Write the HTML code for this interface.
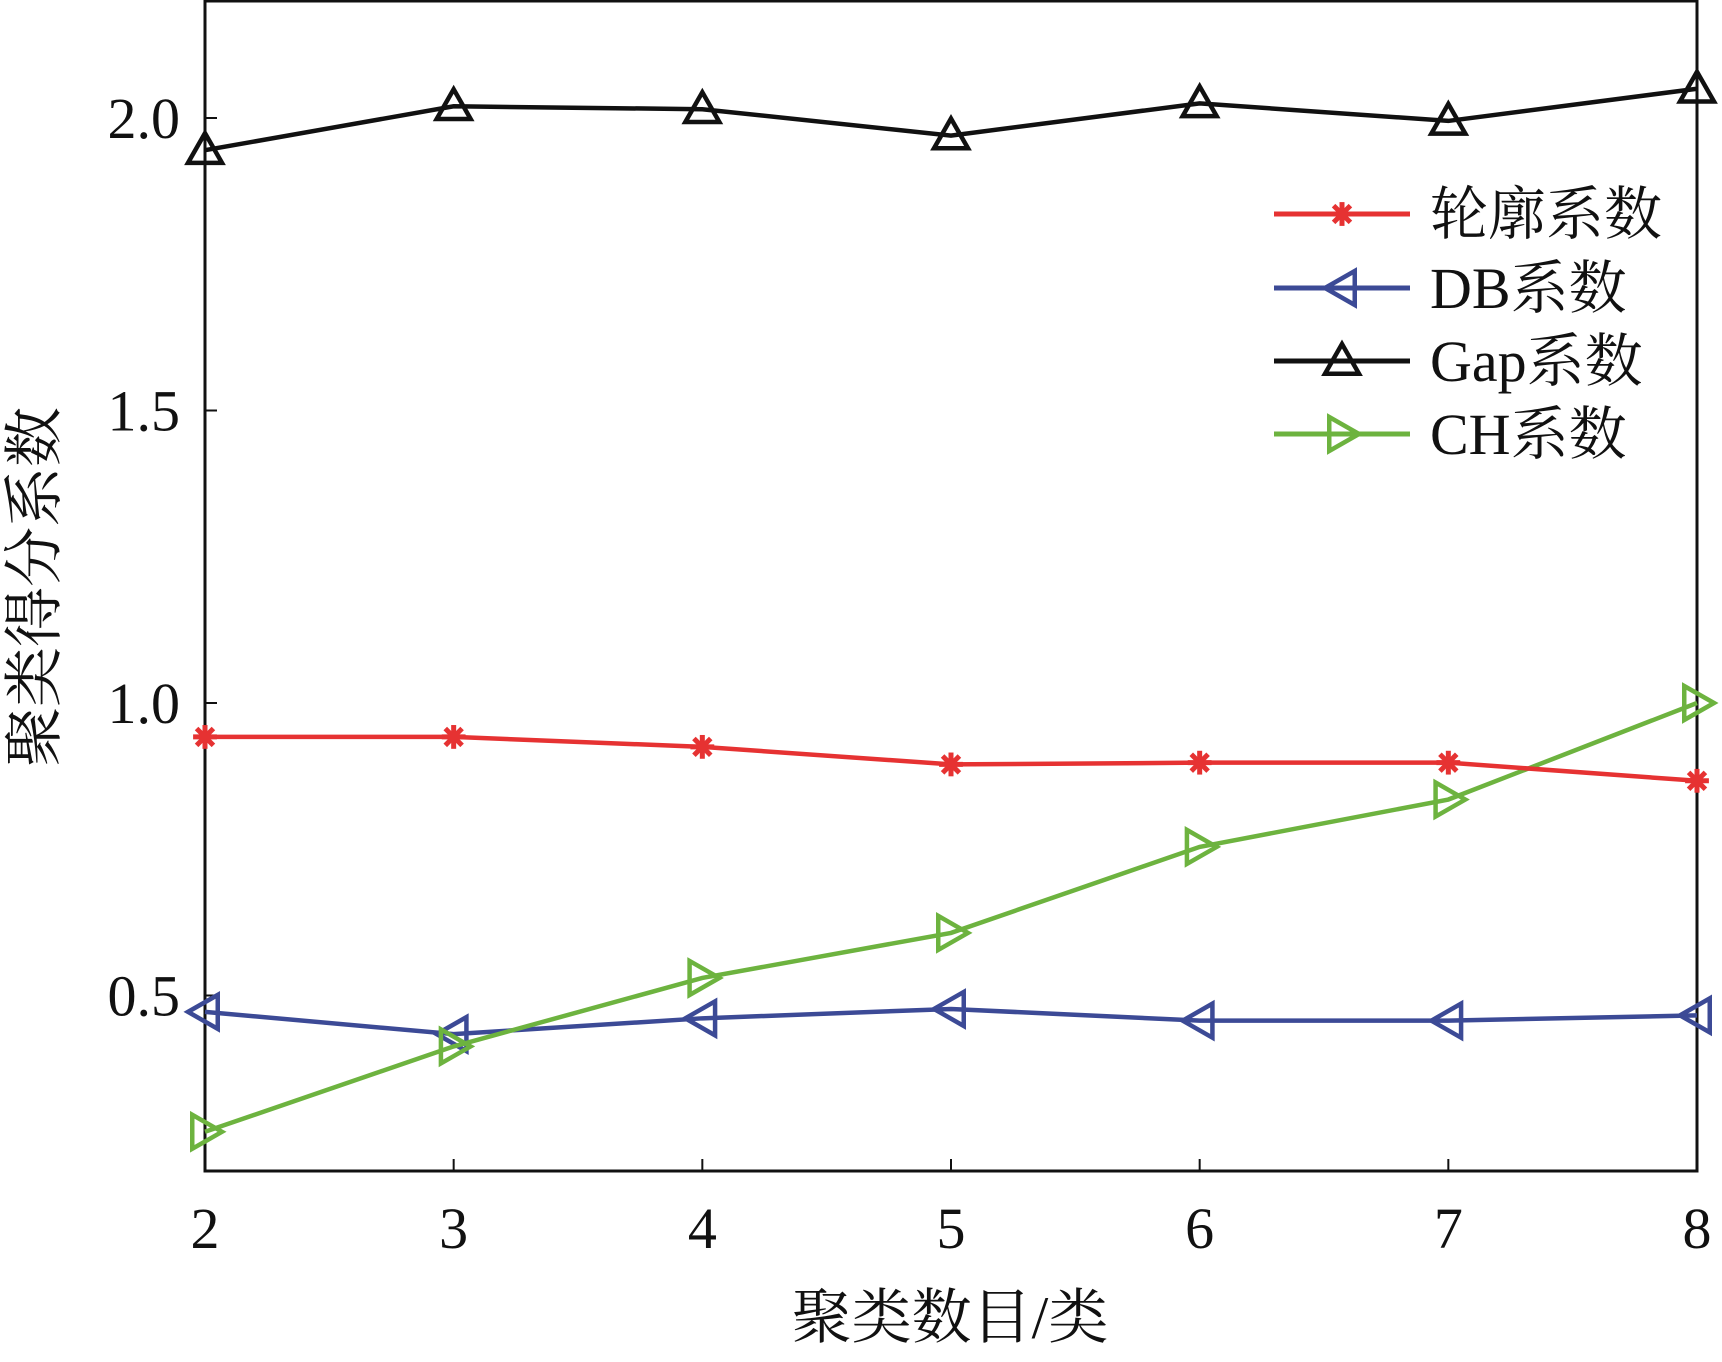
<!DOCTYPE html>
<html><head><meta charset="utf-8"><style>
body{margin:0;background:#fff}
svg text{font-family:"Liberation Serif","Noto Serif CJK SC",serif;fill:#111}
</style></head><body>
<svg id="chart" width="1722" height="1357" viewBox="0 0 1722 1357" xmlns="http://www.w3.org/2000/svg"></svg>
<script>
const categories=[2,3,4,5,6,7,8];
const silhouette=[0.942,0.942,0.925,0.895,0.898,0.898,0.867];
const db=[0.472,0.434,0.461,0.477,0.457,0.457,0.466];
const gap=[1.945,2.02,2.015,1.97,2.025,1.995,2.05];
const ch=[0.267,0.413,0.53,0.607,0.754,0.835,1.0];
const yTicks=[0.5,1.0,1.5,2.0];
const yTickLabels=["0.5","1.0","1.5","2.0"];
const legendLabels=["轮廓系数","DB系数","Gap系数","CH系数"];

const L=205,R=1697,T=1,B=1171,xMin=2,xMax=8,yMin=0.2,yMax=2.2;
const sx=v=>L+(v-xMin)/(xMax-xMin)*(R-L);
const sy=v=>B-(v-yMin)/(yMax-yMin)*(B-T);
const svg=document.getElementById('chart');
const NS='http://www.w3.org/2000/svg';
function mk(tag,attrs,parent){const e=document.createElementNS(NS,tag);for(const k in attrs)e.setAttribute(k,attrs[k]);(parent||svg).appendChild(e);return e;}

const frame=mk('rect',{x:L,y:T,width:R-L,height:B-T,fill:'none',stroke:'#111','stroke-width':3});



categories.forEach(c=>{
  const t=mk('line',{x1:sx(c),x2:sx(c),y1:B,y2:B-12,stroke:'#111','stroke-width':2});
  
  
  const lb=mk('text',{x:sx(c),y:1248,'text-anchor':'middle','font-size':58});
  lb.textContent=c;
  
  
});
yTicks.forEach((v,i)=>{
  const t=mk('line',{x1:L,x2:L+12,y1:sy(v),y2:sy(v),stroke:'#111','stroke-width':2});
  
  
  const lb=mk('text',{x:180,y:sy(v)+20,'text-anchor':'end','font-size':58});
  lb.textContent=yTickLabels[i];
  
  
});
const xt=mk('text',{x:950,y:1338,'text-anchor':'middle','font-size':60});
xt.textContent='聚类数目/类';


const yt=mk('text',{x:0,y:0,'text-anchor':'middle','font-size':60,transform:'translate(55,587) rotate(-90)'});
yt.textContent='聚类得分系数';



function marker(kind,x,y,color,g){
  const s=17;
  if(kind==='star'){
    for(let a=0;a<180;a+=45){const r=a*Math.PI/180;mk('line',{x1:x-s*0.7*Math.cos(r),y1:y-s*0.7*Math.sin(r),x2:x+s*0.7*Math.cos(r),y2:y+s*0.7*Math.sin(r),stroke:color,'stroke-width':5},g);}
  }else{
    let p;
    if(kind==='up')p=[[x,y-s],[x-s,y+s*0.75],[x+s,y+s*0.75]];
    if(kind==='left')p=[[x-s,y],[x+s*0.75,y-s],[x+s*0.75,y+s]];
    if(kind==='right')p=[[x+s,y],[x-s*0.75,y-s],[x-s*0.75,y+s]];
    mk('polygon',{points:p.map(q=>q.join(',')).join(' '),fill:'none',stroke:color,'stroke-width':4.5},g);
  }
}
const series=[
 {vals:silhouette,color:'#e63232',m:'star',name:'silhouette'},
 {vals:db,color:'#3c4a96',m:'left',name:'db'},
 {vals:gap,color:'#111111',m:'up',name:'gap'},
 {vals:ch,color:'#6db33f',m:'right',name:'ch'}];
[1,3,0,2].forEach(i=>{
  const s=series[i];
  const g=mk('g',{});
  
  
  mk('polyline',{points:s.vals.map((v,j)=>sx(categories[j])+','+sy(v)).join(' '),fill:'none',stroke:s.color,'stroke-width':4.5},g);
  s.vals.forEach((v,j)=>marker(s.m,sx(categories[j]),sy(v),s.color,g));
});
const ly=[214,288,361,434];
series.forEach((s,i)=>{
  const g=mk('g',{});
  
  
  mk('line',{x1:1274,x2:1410,y1:ly[i],y2:ly[i],stroke:s.color,'stroke-width':5},g);
  marker(s.m,1342,ly[i],s.color,g);
  const t=mk('text',{x:1430,y:ly[i]+20,'font-size':58},g);
  t.textContent=legendLabels[i];
});
</script>
</body></html>
